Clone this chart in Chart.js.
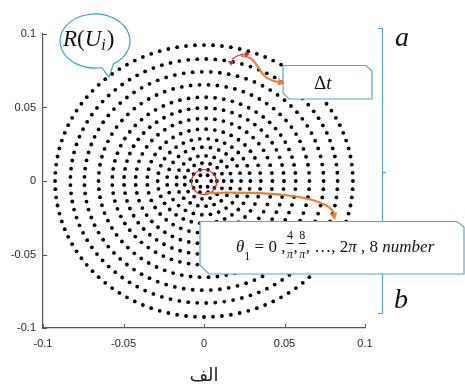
<!DOCTYPE html>
<html>
<head>
<meta charset="utf-8">
<script src="https://cdn.jsdelivr.net/npm/chart.js@4/dist/chart.umd.min.js"></script>
<style>
html,body{margin:0;padding:0;background:#fff;}
#c{display:block;}
</style>
</head>
<body>
<canvas id="c" width="465" height="385"></canvas>
<script>
// ---- data ----
const ringRadii  = [0.0925, 0.083, 0.0743, 0.0655, 0.057, 0.0497, 0.0425, 0.0353, 0.0288, 0.023, 0.0172, 0.0122, 0.008, 0.0045];
const ringCounts = [104, 93, 83, 74, 65, 57, 49, 41, 34, 27, 21, 15, 10, 6];
const xTicks = [-0.1, -0.05, 0, 0.05, 0.1];
const yTicks = [-0.1, -0.05, 0, 0.05, 0.1];
const xTitle = 'الف';

// points on each ring, evenly spaced in angle (theta = 0 ... 2*pi)
const points = [];
ringRadii.forEach((r, k) => {
  const n = ringCounts[k];
  for (let j = 0; j < n; j++) {
    const t = 2 * Math.PI * j / n;
    points.push({x: r * Math.cos(t), y: r * Math.sin(t)});
  }
});

const fmt = v => String(Math.round(v * 100) / 100);
const axisColor = '#555';

const inwardTicks = {
  id: 'inwardTicks',
  afterDraw(chart) {
    const {ctx, scales: {x, y}, chartArea: a} = chart;
    ctx.save();
    ctx.strokeStyle = axisColor;
    ctx.lineWidth = 1;
    xTicks.forEach(v => {
      const px = Math.round(x.getPixelForValue(v)) + 0.5;
      ctx.beginPath(); ctx.moveTo(px, a.bottom); ctx.lineTo(px, a.bottom - 4); ctx.stroke();
    });
    yTicks.forEach(v => {
      const py = Math.round(y.getPixelForValue(v)) + 0.5;
      ctx.beginPath(); ctx.moveTo(a.left, py); ctx.lineTo(a.left + 4, py); ctx.stroke();
    });
    ctx.restore();
  }
};

function arrowHead(ctx, tx, ty, ang, size, color) {
  ctx.save();
  ctx.fillStyle = color;
  ctx.translate(tx, ty);
  ctx.rotate(ang);
  ctx.beginPath();
  ctx.moveTo(0, 0);
  ctx.lineTo(-size, -size * 0.55);
  ctx.lineTo(-size, size * 0.55);
  ctx.closePath();
  ctx.fill();
  ctx.restore();
}

const serif = '"Liberation Serif", "DejaVu Serif", serif';

function drawSeq(ctx, x, y, parts) {
  parts.forEach(p => {
    ctx.font = p.f;
    if (p.dx) x += p.dx;
    ctx.fillText(p.t, x, y + (p.dy || 0));
    x += ctx.measureText(p.t).width;
  });
  return x;
}

const annotations = {
  id: 'annotations',
  afterDraw(chart) {
    const ctx = chart.ctx;
    const blue = '#5aa6c8';
    const orange = '#ed7d31';
    const red = '#d9232e';
    ctx.save();

    // bracket on the right
    ctx.strokeStyle = blue; ctx.lineWidth = 1.2;
    ctx.beginPath();
    ctx.moveTo(378, 28.5); ctx.lineTo(382.5, 28.5); ctx.lineTo(382.5, 313.5); ctx.lineTo(378, 313.5);
    ctx.stroke();
    ctx.beginPath(); ctx.moveTo(382.5, 172.5); ctx.lineTo(386, 172.5); ctx.stroke();

    // letters a and b
    ctx.fillStyle = '#111';
    ctx.font = 'italic 28px ' + serif;
    ctx.textBaseline = 'alphabetic';
    ctx.fillText('a', 395, 46);
    ctx.fillText('b', 394, 308);

    // speech bubble
    ctx.strokeStyle = '#3aa0c8'; ctx.lineWidth = 1.2;
    ctx.beginPath();
    const d2r = Math.PI / 180;
    ctx.ellipse(95, 41, 35, 27, 0, 79 * d2r, (58 + 360) * d2r, false);
    ctx.lineTo(109, 77);
    ctx.lineTo(95 + 35 * Math.cos(79 * d2r), 41 + 27 * Math.sin(79 * d2r));
    ctx.stroke();
    ctx.fillStyle = '#111';
    drawSeq(ctx, 63, 46, [
      {t: 'R', f: 'italic 23px ' + serif},
      {t: '(', f: '23px ' + serif},
      {t: 'U', f: 'italic 23px ' + serif},
      {t: 'i', f: 'italic 16px ' + serif, dy: 4},
      {t: ')', f: '23px ' + serif, dx: 1}
    ]);

    // Δt box
    ctx.fillStyle = '#fff';
    ctx.strokeStyle = blue; ctx.lineWidth = 1.2;
    ctx.beginPath();
    ctx.moveTo(283, 65.5); ctx.lineTo(366, 65.5); ctx.lineTo(372, 71);
    ctx.lineTo(372, 99); ctx.lineTo(289, 99); ctx.lineTo(283, 93); ctx.closePath();
    ctx.fill(); ctx.stroke();
    ctx.fillStyle = '#111';
    drawSeq(ctx, 314, 89, [
      {t: 'Δ', f: '19px ' + serif},
      {t: 't', f: 'italic 19px ' + serif}
    ]);

    // θ box
    ctx.fillStyle = '#fff';
    ctx.beginPath();
    ctx.moveTo(200, 221.5); ctx.lineTo(457, 221.5); ctx.lineTo(464, 227);
    ctx.lineTo(464, 274); ctx.lineTo(209, 274); ctx.lineTo(200, 265); ctx.closePath();
    ctx.fill(); ctx.stroke();
    ctx.fillStyle = '#111';
    const f17 = '17px ' + serif, i17 = 'italic 17px ' + serif, f12 = '12px ' + serif, i12 = 'italic 12px ' + serif;
    let xx = drawSeq(ctx, 236, 252, [
      {t: 'θ', f: i17},
      {t: '1', f: f12, dy: 8},
      {t: ' = 0 ,', f: f17}
    ]);
    function frac(num, x0) {
      ctx.font = f12;
      const w = Math.max(ctx.measureText(num).width, ctx.measureText('π').width) + 1;
      ctx.textAlign = 'center';
      ctx.fillText(num, x0 + w / 2, 239);
      ctx.font = i12;
      ctx.fillText('π', x0 + w / 2, 258);
      ctx.textAlign = 'left';
      ctx.fillRect(x0, 243, w, 1);
      return x0 + w;
    }
    xx = frac('4', xx + 1);
    xx = drawSeq(ctx, xx, 252, [{t: ',', f: f17}]);
    xx = frac('8', xx + 1);
    drawSeq(ctx, xx, 252, [
      {t: ', …, 2', f: f17},
      {t: 'π', f: i17},
      {t: ' , 8 ', f: f17},
      {t: 'number', f: i17}
    ]);

    // red circle at center
    ctx.strokeStyle = red; ctx.lineWidth = 1.2;
    ctx.beginPath(); ctx.arc(204, 182, 12.5, 0, 2 * Math.PI); ctx.stroke();

    // orange arrow from center to θ box
    ctx.strokeStyle = orange; ctx.lineWidth = 2.2;
    ctx.beginPath();
    ctx.moveTo(205, 193);
    ctx.quadraticCurveTo(322, 190, 334, 213);
    ctx.stroke();
    arrowHead(ctx, 335, 220, 1.35, 7, orange);

    // orange arrow to Δt box
    ctx.beginPath();
    ctx.moveTo(241, 56);
    ctx.bezierCurveTo(262, 56, 254, 79, 279, 82);
    ctx.stroke();
    arrowHead(ctx, 285, 83, 0.15, 7, orange);

    // red double arrow
    ctx.strokeStyle = red; ctx.lineWidth = 1.2;
    ctx.beginPath();
    ctx.moveTo(232, 59);
    ctx.quadraticCurveTo(239, 54, 246, 54);
    ctx.stroke();
    arrowHead(ctx, 228, 61, Math.PI + 0.5, 5, red);
    arrowHead(ctx, 250, 54, -0.1, 5, red);

    ctx.restore();
  }
};

new Chart(document.getElementById('c'), {
  type: 'scatter',
  data: {
    datasets: [{
      data: points,
      pointRadius: 1.9,
      pointHoverRadius: 1.9,
      pointBackgroundColor: '#000',
      pointBorderWidth: 0,
      showLine: false
    }]
  },
  options: {
    responsive: false,
    animation: false,
    events: [],
    layout: {padding: {top: 34, right: 100, left: 0, bottom: 0}},
    plugins: {legend: {display: false}, tooltip: {enabled: false}},
    scales: {
      x: {
        type: 'linear', min: -0.1, max: 0.1,
        afterFit(s) { s.height = 57; },
        afterBuildTicks(s) { s.ticks = xTicks.map(v => ({value: v})); },
        grid: {drawOnChartArea: false, drawTicks: false},
        border: {display: true, color: axisColor, width: 1.2},
        ticks: {callback: fmt, color: '#262626', padding: 9, maxRotation: 0,
                font: {family: '"Liberation Sans", Arial, sans-serif', size: 11}},
        title: {display: true, text: xTitle, color: '#222', padding: {top: 0, bottom: 0},
                font: {family: '"DejaVu Sans", sans-serif', size: 18, lineHeight: 1}}
      },
      y: {
        type: 'linear', min: -0.1, max: 0.1,
        afterFit(s) { s.width = 43; },
        afterBuildTicks(s) { s.ticks = yTicks.map(v => ({value: v})); },
        grid: {drawOnChartArea: false, drawTicks: false},
        border: {display: true, color: axisColor, width: 1.2},
        ticks: {callback: fmt, color: '#262626', padding: 7,
                font: {family: '"Liberation Sans", Arial, sans-serif', size: 11}}
      }
    }
  },
  plugins: [inwardTicks, annotations]
});
</script>
</body>
</html>
